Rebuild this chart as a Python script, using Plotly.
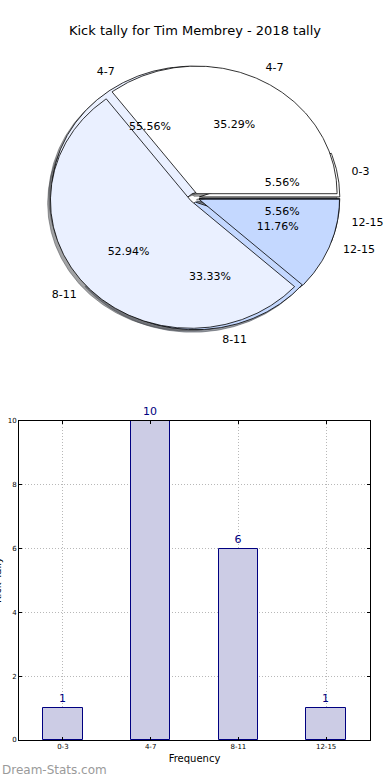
import numpy as np
import plotly.graph_objects as go

# ---------------- data ----------------
chart_title = "Kick tally for Tim Membrey - 2018 tally"
categories = ["0-3", "4-7", "8-11", "12-15"]
tally_values = [1, 10, 6, 1]            # outer pie + bar chart
pie2_labels = ["4-7", "8-11", "12-15"]
pie2_values = [6, 9, 2]                 # second (overlaid) pie
x_title = "Frequency"
y_title = "Kick Tally"
watermark = "Dream-Stats.com"

# ---------------- style ----------------
W, H = 390, 780
FONT = "DejaVu Sans"
slice_colors = ["#FFFFFF", "#EAF0FF", "#C4D8FF", "#A8C4FF"]
CX, CY = 194.5, 197.7        # pie centre (px)
RX, RY = 140.4, 127.6        # pie radii (px) – matplotlib pie drawn on non-equal axes
EXPLODE = 0.035
PCT_DIST = 0.6
LABEL_DIST = 1.1
SHADOW = 0.02
PIE_TOP_PX, PIE_BOT_PX = 40, 380


def slices(values):
    total = float(sum(values))
    out, start = [], 0.0
    for v in values:
        frac = v / total
        t1, t2 = start, start + 360.0 * frac
        out.append((t1, t2, (t1 + t2) / 2.0, frac))
        start = t2
    return out


def wedge_xy(t1, t2, mid, shift=0.0):
    ox = EXPLODE * np.cos(np.radians(mid)) + shift
    oy = EXPLODE * np.sin(np.radians(mid)) + shift
    th = np.radians(np.linspace(t1, t2, max(int((t2 - t1) * 2), 6)))
    xs = np.concatenate([[ox], ox + np.cos(th), [ox]])
    ys = np.concatenate([[oy], oy + np.sin(th), [oy]])
    return xs, ys


def shade(hexcol):
    r, g, b = (int(hexcol[i:i + 2], 16) for i in (1, 3, 5))
    return f"rgba({int(0.3 * r)},{int(0.3 * g)},{int(0.3 * b)},0.5)"


fig = go.Figure()

pieA = slices(tally_values)
pieB = slices(pie2_values)
colorsA = slice_colors[:len(tally_values)]
colorsB = slice_colors[:len(pie2_values)]

common = dict(xaxis="x2", yaxis="y2", mode="lines", showlegend=False, hoverinfo="skip")

# shadows (under everything)
for sl, cols in ((pieA, colorsA), (pieB, colorsB)):
    for (t1, t2, mid, frac), c in zip(sl, cols):
        xs, ys = wedge_xy(t1, t2, mid, shift=-SHADOW)
        fig.add_trace(go.Scatter(x=xs, y=ys, fill="toself", fillcolor=shade(c),
                                 line=dict(color=shade(c), width=1), **common))

# wedges
for sl, cols in ((pieA, colorsA), (pieB, colorsB)):
    for (t1, t2, mid, frac), c in zip(sl, cols):
        xs, ys = wedge_xy(t1, t2, mid)
        fig.add_trace(go.Scatter(x=xs, y=ys, fill="toself", fillcolor=c,
                                 line=dict(color="black", width=0.8), **common))

# texts
for sl, labs in ((pieA, categories), (pieB, pie2_labels)):
    px_, py_, pt = [], [], []
    lx, ly, lt, lpos = [], [], [], []
    for (t1, t2, mid, frac), lab in zip(sl, labs):
        c, s = np.cos(np.radians(mid)), np.sin(np.radians(mid))
        ox, oy = EXPLODE * c, EXPLODE * s
        px_.append(ox + PCT_DIST * c)
        py_.append(oy + PCT_DIST * s)
        pt.append(f"{frac * 100:.2f}%")
        lx.append(ox + LABEL_DIST * c)
        ly.append(oy + LABEL_DIST * s)
        lt.append(lab)
        lpos.append("middle right" if c > 0 else "middle left")
    fig.add_trace(go.Scatter(x=px_, y=py_, text=pt, mode="text", textposition="middle center",
                             textfont=dict(family=FONT, size=11, color="black"),
                             xaxis="x2", yaxis="y2", showlegend=False, hoverinfo="skip"))
    fig.add_trace(go.Scatter(x=lx, y=ly, text=lt, mode="text", textposition=lpos,
                             textfont=dict(family=FONT, size=11, color="black"),
                             xaxis="x2", yaxis="y2", showlegend=False, hoverinfo="skip"))

# bar chart
fig.add_trace(go.Bar(x=categories, y=tally_values, width=0.45,
                     marker=dict(color="#CCCCE5", line=dict(color="#000080", width=1)),
                     text=[str(v) for v in tally_values], textposition="outside",
                     textfont=dict(family=FONT, size=11, color="#000080"),
                     cliponaxis=False, showlegend=False, hoverinfo="skip"))

GRID = dict(showgrid=True, gridcolor="#b8b8b8", griddash="1px,2px", gridwidth=1)
pie_dom_y = [1 - PIE_BOT_PX / H, 1 - PIE_TOP_PX / H]
fig.update_layout(
    width=W, height=H,
    margin=dict(l=0, r=0, t=0, b=0),
    paper_bgcolor="white", plot_bgcolor="white",
    font=dict(family=FONT, color="black"),
    title=dict(text=chart_title, x=0.5, xanchor="center", y=1 - 30 / H, yanchor="middle",
               font=dict(family=FONT, size=13, color="black")),
    bargap=0,
    xaxis=dict(domain=[19 / W, 370 / W], range=[-0.5, 3.5], type="category", **GRID,
               showline=True, mirror="ticks", linecolor="black", linewidth=1,
               ticks="inside", ticklen=3, tickcolor="black",
               tickfont=dict(family=FONT, size=7, color="black"),
               title=dict(text=x_title, standoff=4, font=dict(family=FONT, size=10)),
               automargin=False, fixedrange=True, zeroline=False),
    yaxis=dict(domain=[1 - 740 / H, 1 - 421 / H], range=[0, 10], dtick=2, **GRID,
               showline=True, mirror="ticks", linecolor="black", linewidth=1,
               ticks="inside", ticklen=3, tickcolor="black",
               tickfont=dict(family=FONT, size=7, color="black"),
               automargin=False, fixedrange=True, zeroline=False),
    xaxis2=dict(domain=[0, 1], range=[-CX / RX, (W - CX) / RX], visible=False, fixedrange=True),
    yaxis2=dict(domain=pie_dom_y, range=[-(PIE_BOT_PX - CY) / RY, (CY - PIE_TOP_PX) / RY],
                visible=False, fixedrange=True),
    annotations=[
        dict(text=watermark, xref="paper", yref="paper", x=0, y=1 - 770 / H,
             xanchor="left", yanchor="middle", showarrow=False,
             font=dict(family=FONT, size=12, color="#9a9a9a")),
        dict(text=y_title, xref="paper", yref="paper", x=-3 / W, y=1 - 580 / H,
             xanchor="center", yanchor="middle", textangle=-90, showarrow=False,
             font=dict(family=FONT, size=10, color="black")),
    ],
)

fig.write_html("out.html", config={"displayModeBar": False},
               post_script="document.body.style.margin='0';document.body.style.overflow='hidden';")
